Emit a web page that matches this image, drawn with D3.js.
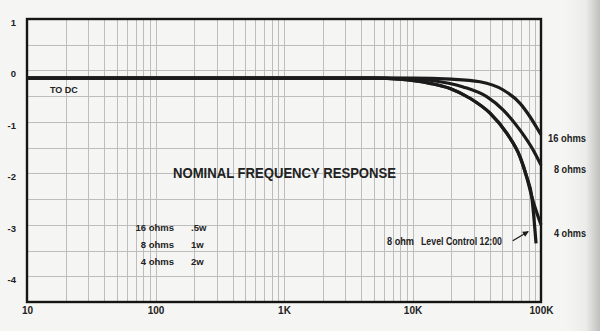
<!DOCTYPE html>
<html>
<head>
<meta charset="utf-8">
<script src="https://cdn.jsdelivr.net/npm/d3@7/dist/d3.min.js"></script>
<style>
  html, body { margin: 0; padding: 0; background: #f5f5f3; }
  svg { display: block; }
  text { font-family: "Liberation Sans", Arial, sans-serif; fill: #222; }
</style>
</head>
<body>
<svg id="chart" width="600" height="331"></svg>
<script>
// Frequency response of the amplifier into three loads (Hz, dB)
const freq16 = [10, 5000, 10000, 20000, 33500, 50900, 68700, 82100, 95200, 100000];
const db16   = [-0.15, -0.15, -0.15, -0.17, -0.22, -0.38, -0.64, -0.90, -1.16, -1.25];

const freq8 = [10, 5000, 10000, 13700, 24800, 37800, 50900, 68700, 87100, 100000];
const db8   = [-0.15, -0.15, -0.16, -0.19, -0.32, -0.51, -0.77, -1.16, -1.55, -1.84];

const freq4 = [10, 5000, 8000, 13700, 19600, 28000, 40100, 54100, 68700, 77400, 84700, 100000];
const db4   = [-0.15, -0.15, -0.17, -0.25, -0.35, -0.54, -0.83, -1.22, -1.68, -2.07, -2.45, -3.0];

// 8 ohm load with the level control at 12:00
const freqLevel = [10, 5000, 8000, 13700, 19600, 28000, 40100, 54100, 68700, 77400, 84700, 91500];
const dbLevel   = [-0.15, -0.15, -0.17, -0.25, -0.35, -0.54, -0.83, -1.22, -1.68, -2.07, -2.45, -3.36];

// Axis ticks
const xTickValues = [10, 100, 1000, 10000, 100000];
const xTickLabels = ["10", "100", "1K", "10K", "100K"];
const yTickValues = [1, 0, -1, -2, -3, -4];

// Series end labels
const seriesNames = ["16 ohms", "8 ohms", "4 ohms"];

// Power table
const legendLoads = ["16 ohms", "8 ohms", "4 ohms"];
const legendWatts = [".5w", "1w", "2w"];

const svg = d3.select("#chart");
const W = 600, H = 331;
const plot = { left: 27, right: 541, top: 19, bottom: 302 };

const x = d3.scaleLog().domain([10, 100000]).range([plot.left, plot.right]);
const y = d3.scaleLinear().domain([-4.5, 1]).range([plot.bottom, plot.top]);

// paper shading toward the right edge
const defs = svg.append("defs");
const grad = defs.append("linearGradient").attr("id", "edge")
  .attr("x1", 0).attr("x2", 1).attr("y1", 0).attr("y2", 0);
grad.append("stop").attr("offset", "0").attr("stop-color", "#000").attr("stop-opacity", 0);
grad.append("stop").attr("offset", "0.6").attr("stop-color", "#000").attr("stop-opacity", 0.04);
grad.append("stop").attr("offset", "1").attr("stop-color", "#000").attr("stop-opacity", 0.22);

svg.append("rect").attr("width", W).attr("height", H).attr("fill", "#f5f5f3");
svg.append("rect").attr("x", 565).attr("y", 0).attr("width", 35).attr("height", H)
  .attr("fill", "url(#edge)");

// arrow head
defs.append("marker").attr("id", "arrowhead")
  .attr("viewBox", "0 0 10 10").attr("refX", 9).attr("refY", 5)
  .attr("markerWidth", 7).attr("markerHeight", 6).attr("orient", "auto")
  .attr("markerUnits", "userSpaceOnUse")
  .append("path").attr("d", "M0,0 L10,5 L0,10 z").attr("fill", "#1c1c1c");

// log grid: every 1..9 multiple of each decade
const vGrid = [];
[10, 100, 1000, 10000].forEach(d => { for (let m = 1; m <= 9; m++) vGrid.push(d * m); });
vGrid.push(100000);
const hGrid = d3.range(-4.5, 1.001, 0.5);

const grid = svg.append("g").attr("stroke", "#bdbdbd").attr("stroke-width", 1);
grid.selectAll("line.v").data(vGrid).join("line").attr("class", "v")
  .attr("x1", d => Math.round(x(d)) + 0.5).attr("x2", d => Math.round(x(d)) + 0.5)
  .attr("y1", plot.top).attr("y2", plot.bottom);
grid.selectAll("line.h").data(hGrid).join("line").attr("class", "h")
  .attr("x1", plot.left).attr("x2", plot.right)
  .attr("y1", d => Math.round(y(d)) + 0.5).attr("y2", d => Math.round(y(d)) + 0.5);

// frame
svg.append("rect")
  .attr("x", plot.left).attr("y", plot.top)
  .attr("width", plot.right - plot.left).attr("height", plot.bottom - plot.top)
  .attr("fill", "none").attr("stroke", "#151515").attr("stroke-width", 2.4);

// axes
const xAxis = d3.axisBottom(x).tickValues(xTickValues)
  .tickFormat((d, i) => xTickLabels[i]).tickSize(0).tickPadding(5);
const gx = svg.append("g").attr("transform", `translate(0,${plot.bottom})`).call(xAxis);
gx.select(".domain").remove();
gx.selectAll("text").attr("font-size", 10).attr("font-weight", "bold")
  .attr("font-family", "Liberation Sans, Arial, sans-serif").attr("fill", "#222");

const yAxis = d3.axisLeft(y).tickValues(yTickValues)
  .tickFormat(d => String(d)).tickSize(0).tickPadding(11);
const gy = svg.append("g").attr("transform", `translate(${plot.left},0)`).call(yAxis);
gy.select(".domain").remove();
gy.selectAll("text").attr("font-size", 9.5).attr("font-weight", "bold").attr("dy", 6.5)
  .attr("font-family", "Liberation Sans, Arial, sans-serif").attr("fill", "#222");

// response curves
const toPoints = (fs, vs) => fs.map((f, i) => ({ f, v: vs[i] }));
const line = d3.line().x(d => x(d.f)).y(d => y(d.v)).curve(d3.curveMonotoneX);

const curves = [
  toPoints(freqLevel, dbLevel),
  toPoints(freq4, db4),
  toPoints(freq8, db8),
  toPoints(freq16, db16)
];
svg.append("g").selectAll("path").data(curves).join("path")
  .attr("d", line).attr("fill", "none").attr("stroke", "#1b1b1b")
  .attr("stroke-width", 3.2).attr("stroke-linejoin", "round");

// labels at the curve ends
const ends = [db16[db16.length - 1], db8[db8.length - 1], db4[db4.length - 1]];
const endOffsets = [4, 4, 9];
svg.append("g").selectAll("text").data(seriesNames).join("text")
  .attr("x", 586).attr("y", (d, i) => y(ends[i]) + endOffsets[i] + 3.5)
  .attr("text-anchor", "end").attr("font-size", 10).attr("font-weight", "bold")
  .attr("textLength", (d, i) => i === 0 ? 38 : 32).attr("lengthAdjust", "spacingAndGlyphs")
  .text(d => d);

// title
svg.append("text").attr("x", 173).attr("y", 178)
  .attr("font-size", 14.5).attr("font-weight", "bold")
  .attr("textLength", 223).attr("lengthAdjust", "spacingAndGlyphs")
  .text("NOMINAL FREQUENCY RESPONSE");

// flat response extends down to DC
svg.append("text").attr("x", x(15.1)).attr("y", y(-0.15) + 15)
  .attr("font-size", 9).attr("font-weight", "bold")
  .text("TO DC");

// power table
const table = svg.append("g");
table.selectAll("text.load").data(legendLoads).join("text").attr("class", "load")
  .attr("x", 174).attr("y", (d, i) => 231 + i * 17)
  .attr("text-anchor", "end").attr("font-size", 9.5).attr("font-weight", "bold")
  .text(d => d);
table.selectAll("text.watt").data(legendWatts).join("text").attr("class", "watt")
  .attr("x", 191).attr("y", (d, i) => 231 + i * 17)
  .attr("font-size", 9.5).attr("font-weight", "bold")
  .text(d => d);

// level control note with arrow
const noteTail = { f: 60300, v: -3.31 };
const noteTip = { f: 79600, v: -3.13 };
svg.append("line")
  .attr("x1", x(noteTail.f)).attr("y1", y(noteTail.v))
  .attr("x2", x(noteTip.f)).attr("y2", y(noteTip.v))
  .attr("stroke", "#1c1c1c").attr("stroke-width", 1.3)
  .attr("marker-end", "url(#arrowhead)");
svg.append("text").attr("x", 387).attr("y", 245)
  .attr("font-size", 10).attr("font-weight", "bold")
  .attr("textLength", 27).attr("lengthAdjust", "spacingAndGlyphs")
  .text("8 ohm");
svg.append("text").attr("x", 421).attr("y", 245)
  .attr("font-size", 10).attr("font-weight", "bold")
  .attr("textLength", 81).attr("lengthAdjust", "spacingAndGlyphs")
  .text("Level Control 12:00");
</script>
</body>
</html>
